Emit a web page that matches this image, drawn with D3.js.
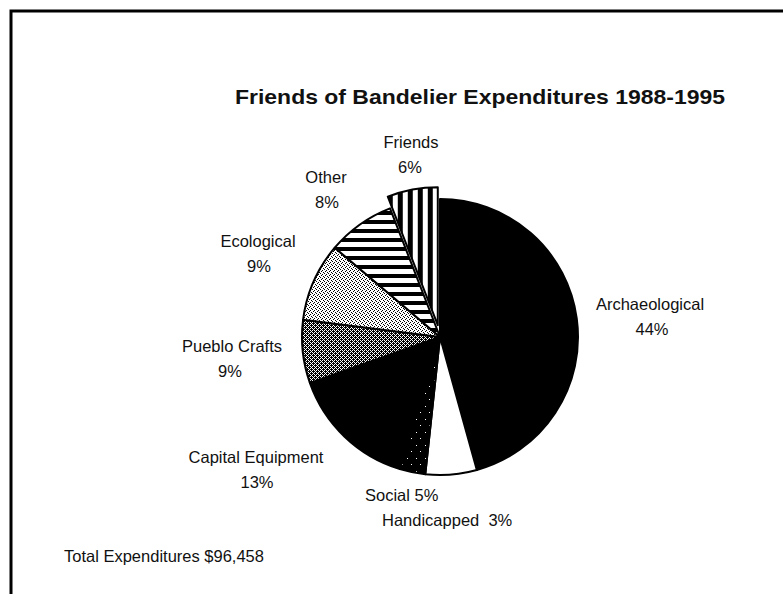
<!DOCTYPE html>
<html>
<head>
<meta charset="utf-8">
<script src="https://d3js.org/d3.v7.min.js"></script>
<style>
  body { margin: 0; background: #fff; }
  text { font-family: "Liberation Sans", Arial, Helvetica, sans-serif; fill: #111; }
</style>
</head>
<body>
<div id="chart"></div>
<script>

// data
var categories = ["Archaeological", "Social", "Handicapped", "Capital Equipment",
                  "Pueblo Crafts", "Ecological", "Other", "Friends"]
// slice shares (percent of total) as drawn in the picture
var shares = [45.7, 6.0, 3.0, 14.9, 7.4, 9.2, 7.9, 5.9]
// percent labels as printed
var pctLabels = ["44%", "5%", "3%", "13%", "9%", "9%", "8%", "6%"]
var title = "Friends of Bandelier Expenditures 1988-1995"
var totalNote = "Total Expenditures $96,458"

var width = 783,
    height = 594,
    cx = 440,
    cy = 337,
    radius = 138;

var svg = d3.select("#chart")
    .append("svg")
    .attr("width", width)
    .attr("height", height);

// fill patterns for the slices
var defs = svg.append("defs");

function stripes(id, vertical, size, black) {
  var p = defs.append("pattern")
      .attr("id", id)
      .attr("patternUnits", "userSpaceOnUse")
      .attr("width", size)
      .attr("height", size);
  p.append("rect").attr("width", size).attr("height", size).attr("fill", "#fff");
  if (vertical) {
    p.append("rect").attr("width", black).attr("height", size).attr("fill", "#000");
  } else {
    p.append("rect").attr("width", size).attr("height", black).attr("fill", "#000");
  }
}

function stipple(id, bg, dots, dotColor) {
  var p = defs.append("pattern")
      .attr("id", id)
      .attr("patternUnits", "userSpaceOnUse")
      .attr("width", 4)
      .attr("height", 4);
  p.append("rect").attr("width", 4).attr("height", 4).attr("fill", bg);
  dots.forEach(function(d) {
    p.append("rect").attr("x", d[0]).attr("y", d[1])
      .attr("width", 1).attr("height", 1).attr("fill", dotColor);
  });
}

stripes("hstripe", false, 9, 4)
stripes("vstripe", true, 10, 5)
stipple("dark", "#fff", [[0,0],[1,1],[2,0],[3,1],[0,2],[2,2],[1,3],[3,3],[3,0],[1,2]], "#000")
stipple("light", "#fff", [[0,0],[2,1],[1,2],[3,3]], "#000")

// nearly black with a few white specks
var handi = defs.append("pattern")
    .attr("id", "handi")
    .attr("patternUnits", "userSpaceOnUse")
    .attr("width", 9)
    .attr("height", 13);
handi.append("rect").attr("width", 9).attr("height", 13).attr("fill", "#000");
handi.append("rect").attr("x", 3).attr("y", 4).attr("width", 1).attr("height", 1).attr("fill", "#fff");
handi.append("rect").attr("x", 7).attr("y", 10).attr("width", 1).attr("height", 1).attr("fill", "#fff");

var fills = ["#000", "#fff", "url(#handi)", "#000", "url(#dark)", "url(#light)", "url(#hstripe)", "url(#vstripe)"]

// frame round the page
svg.append("path")
   .attr("d", "M11," + height + " V11 H" + width)
   .attr("fill", "none")
   .attr("stroke", "#000")
   .attr("stroke-width", 3);

// title
svg.append("text")
   .attr("x", 480)
   .attr("y", 104)
   .attr("text-anchor", "middle")
   .attr("font-size", "21px")
   .attr("font-weight", "bold")
   .attr("textLength", 490)
   .attr("lengthAdjust", "spacingAndGlyphs")
   .text(title);

// the pie, starting at 12 o'clock and going clockwise
var pie = d3.pie().sort(null).value(function(d) { return d; });
var arc = d3.arc().innerRadius(0).outerRadius(radius);
var arcs = pie(shares);

var g = svg.append("g")
    .attr("transform", "translate(" + cx + "," + cy + ")");

g.selectAll("path")
 .data(arcs)
 .enter().append("path")
 .attr("d", arc)
 .attr("transform", function(d, i) {
   // the Friends slice is pulled out
   if (categories[i] != "Friends") return null;
   var c = arc.centroid(d), k = 12 / Math.sqrt(c[0] * c[0] + c[1] * c[1]);
   return "translate(" + c[0] * k + "," + c[1] * k + ")";
 })
 .attr("fill", function(d, i) { return fills[i]; })
 .attr("stroke", "#000")
 .attr("stroke-width", 2)
 .attr("stroke-linejoin", "round");

// label layout: name line and percent line
var labelPos = {
  "Archaeological":    {x: 650, y: 310, pctx: 652, two: true},
  "Social":            {x: 365, y: 501, anchor: "start"},
  "Handicapped":       {x: 382, y: 526, anchor: "start", gap: "  "},
  "Capital Equipment": {x: 256, y: 463, pctx: 257, two: true},
  "Pueblo Crafts":     {x: 232, y: 352, pctx: 230, two: true},
  "Ecological":        {x: 258, y: 247, pctx: 259, two: true},
  "Other":             {x: 326, y: 183, pctx: 327, two: true},
  "Friends":           {x: 411, y: 148, pctx: 410, two: true}
}

var labels = svg.append("g").attr("font-size", "16.5px");

categories.forEach(function(name, i) {
  var p = labelPos[name];
  if (p.two) {
    labels.append("text")
      .attr("x", p.x).attr("y", p.y)
      .attr("text-anchor", "middle")
      .text(name);
    labels.append("text")
      .attr("x", p.pctx).attr("y", p.y + 25)
      .attr("text-anchor", "middle")
      .text(pctLabels[i]);
  } else {
    labels.append("text")
      .attr("x", p.x).attr("y", p.y)
      .attr("text-anchor", p.anchor)
      .style("white-space", "pre")
      .text(name + (p.gap || " ") + pctLabels[i]);
  }
});

// total note bottom left
svg.append("text")
   .attr("x", 64)
   .attr("y", 562)
   .attr("font-size", "16.5px")
   .text(totalNote);

</script>
</body>
</html>
